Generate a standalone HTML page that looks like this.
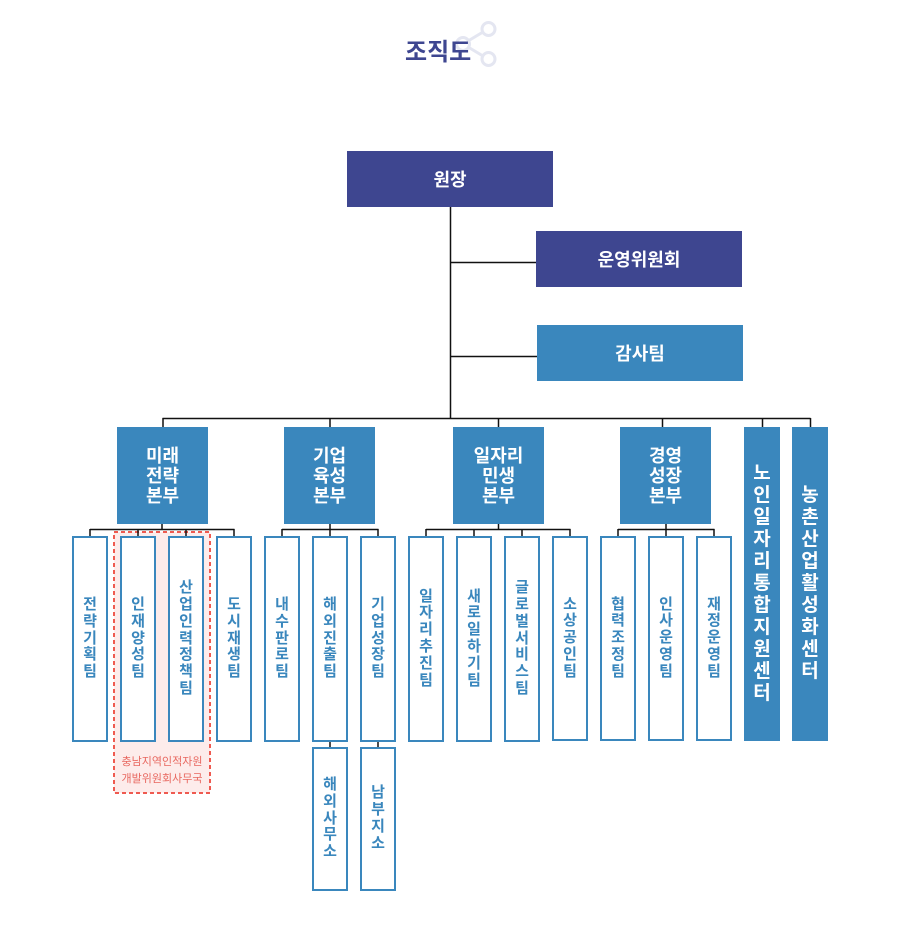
<!DOCTYPE html>
<html>
<head>
<meta charset="utf-8">
<style>
html,body{margin:0;padding:0;background:#fff;}
body{width:900px;height:952px;position:relative;overflow:hidden;font-family:"Liberation Sans","Noto Sans CJK KR",sans-serif;font-weight:bold;}
.abs{position:absolute;box-sizing:border-box;}
.top{background:#3e4690;color:#fff;font-size:18px;display:flex;align-items:center;justify-content:center;}
.blue{background:#3a87bd;color:#fff;}
.hq{font-size:18px;line-height:20px;display:flex;align-items:center;justify-content:center;text-align:center;}
.team{border:2px solid #3a87bd;background:#fff;color:#3a87bd;font-size:15px;line-height:16.8px;display:flex;align-items:center;justify-content:center;text-align:center;width:36px;}
.center{font-size:19px;line-height:22px;display:flex;align-items:center;justify-content:center;text-align:center;}
</style>
</head>
<body>
<svg class="abs" style="left:0;top:0" width="900" height="952" viewBox="0 0 900 952">
  <g stroke="#e4e6f1" stroke-width="3" fill="none">
    <line x1="463" y1="44" x2="488" y2="29"/>
    <line x1="463" y1="44" x2="488" y2="59"/>
    <circle cx="488.5" cy="29" r="6.5" fill="#fff"/>
    <circle cx="488.5" cy="59" r="6.5" fill="#fff"/>
    <circle cx="463" cy="44" r="6.5" fill="#fff"/>
  </g>
  <rect x="114" y="532" width="96" height="261" fill="#fdeceb" stroke="#ef5a50" stroke-width="2" stroke-dasharray="4 3"/>
  <g stroke="#111" stroke-width="1.5" fill="none">
    <line x1="450.5" y1="207" x2="450.5" y2="418.5"/>
    <line x1="450" y1="262.5" x2="536" y2="262.5"/>
    <line x1="450" y1="356.5" x2="537" y2="356.5"/>
    <line x1="162.5" y1="418.5" x2="810.5" y2="418.5"/>
    <line x1="163" y1="418" x2="163" y2="427"/>
    <line x1="330" y1="418" x2="330" y2="427"/>
    <line x1="498.5" y1="418" x2="498.5" y2="427"/>
    <line x1="662.5" y1="418" x2="662.5" y2="427"/>
    <line x1="762.5" y1="418" x2="762.5" y2="427"/>
    <line x1="810.5" y1="418" x2="810.5" y2="427"/>
    <line x1="90" y1="529.5" x2="234.5" y2="529.5"/>
    <line x1="162" y1="524" x2="162" y2="529.5"/>
    <line x1="282" y1="529.5" x2="378.5" y2="529.5"/>
    <line x1="330" y1="524" x2="330" y2="529.5"/>
    <line x1="426" y1="529.5" x2="570.5" y2="529.5"/>
    <line x1="498.5" y1="524" x2="498.5" y2="529.5"/>
    <line x1="618" y1="529.5" x2="714.5" y2="529.5"/>
    <line x1="666" y1="524" x2="666" y2="529.5"/>
    <line x1="90" y1="529" x2="90" y2="537"/>
    <line x1="138" y1="529" x2="138" y2="537"/>
    <line x1="186" y1="529" x2="186" y2="537"/>
    <line x1="234" y1="529" x2="234" y2="537"/>
    <line x1="282" y1="529" x2="282" y2="537"/>
    <line x1="330" y1="529" x2="330" y2="537"/>
    <line x1="378" y1="529" x2="378" y2="537"/>
    <line x1="426" y1="529" x2="426" y2="537"/>
    <line x1="474" y1="529" x2="474" y2="537"/>
    <line x1="522" y1="529" x2="522" y2="537"/>
    <line x1="570" y1="529" x2="570" y2="537"/>
    <line x1="618" y1="529" x2="618" y2="537"/>
    <line x1="666" y1="529" x2="666" y2="537"/>
    <line x1="714" y1="529" x2="714" y2="537"/>
    <line x1="330" y1="740" x2="330" y2="748"/>
    <line x1="378" y1="740" x2="378" y2="748"/>
  </g>
</svg>

<div class="abs" style="left:405px;top:38px;font-size:24px;color:#3e4690;line-height:30px;">조직도</div>

<div class="abs top" style="left:347px;top:151px;width:206px;height:56px;">원장</div>
<div class="abs top" style="left:536px;top:231px;width:206px;height:56px;">운영위원회</div>
<div class="abs top blue" style="left:537px;top:325px;width:206px;height:56px;">감사팀</div>

<div class="abs hq blue" style="left:117px;top:427px;width:91px;height:97px;">미래<br>전략<br>본부</div>
<div class="abs hq blue" style="left:284px;top:427px;width:91px;height:97px;">기업<br>육성<br>본부</div>
<div class="abs hq blue" style="left:453px;top:427px;width:91px;height:97px;">일자리<br>민생<br>본부</div>
<div class="abs hq blue" style="left:620px;top:427px;width:91px;height:97px;">경영<br>성장<br>본부</div>

<div class="abs center blue" style="left:744px;top:427px;width:36px;height:314px;">노<br>인<br>일<br>자<br>리<br>통<br>합<br>지<br>원<br>센<br>터</div>
<div class="abs center blue" style="left:792px;top:427px;width:36px;height:314px;">농<br>촌<br>산<br>업<br>활<br>성<br>화<br>센<br>터</div>

<div class="abs team" style="left:72px;top:536px;height:206px;">전<br>략<br>기<br>획<br>팀</div>
<div class="abs team" style="left:120px;top:536px;height:206px;">인<br>재<br>양<br>성<br>팀</div>
<div class="abs team" style="left:168px;top:536px;height:206px;">산<br>업<br>인<br>력<br>정<br>책<br>팀</div>
<div class="abs team" style="left:216px;top:536px;height:206px;">도<br>시<br>재<br>생<br>팀</div>

<div class="abs team" style="left:264px;top:536px;height:206px;">내<br>수<br>판<br>로<br>팀</div>
<div class="abs team" style="left:312px;top:536px;height:206px;">해<br>외<br>진<br>출<br>팀</div>
<div class="abs team" style="left:360px;top:536px;height:206px;">기<br>업<br>성<br>장<br>팀</div>
<div class="abs team" style="left:312px;top:747px;height:144px;">해<br>외<br>사<br>무<br>소</div>
<div class="abs team" style="left:360px;top:747px;height:144px;">남<br>부<br>지<br>소</div>

<div class="abs team" style="left:408px;top:536px;height:206px;">일<br>자<br>리<br>추<br>진<br>팀</div>
<div class="abs team" style="left:456px;top:536px;height:206px;">새<br>로<br>일<br>하<br>기<br>팀</div>
<div class="abs team" style="left:504px;top:536px;height:206px;">글<br>로<br>벌<br>서<br>비<br>스<br>팀</div>
<div class="abs team" style="left:552px;top:536px;height:205px;">소<br>상<br>공<br>인<br>팀</div>

<div class="abs team" style="left:600px;top:536px;height:205px;">협<br>력<br>조<br>정<br>팀</div>
<div class="abs team" style="left:648px;top:536px;height:205px;">인<br>사<br>운<br>영<br>팀</div>
<div class="abs team" style="left:696px;top:536px;height:205px;">재<br>정<br>운<br>영<br>팀</div>

<div class="abs" style="left:113px;top:754px;width:98px;text-align:center;font-size:11px;line-height:17px;color:#e8675f;font-weight:normal;">충남지역인적자원<br>개발위원회사무국</div>
</body>
</html>
